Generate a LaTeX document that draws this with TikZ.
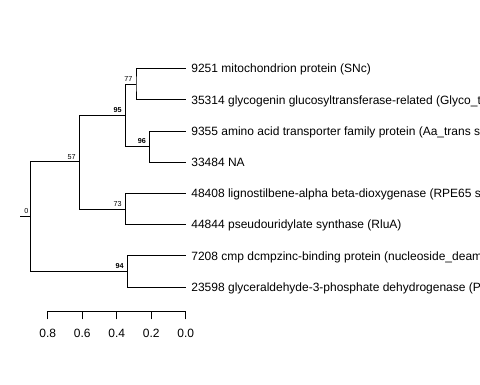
\documentclass[tikz,border=0pt]{standalone}
\usepackage{fontspec}
\setmainfont{Liberation Sans}
\begin{document}
\begin{tikzpicture}[x=1pt,y=-1pt,
  br/.style={draw=black,line width=0.75pt,line cap=rect},
  tip/.style={anchor=base west,inner sep=0pt,font=\fontsize{12}{14}\selectfont},
  blab/.style={anchor=south east,inner sep=0pt,font=\fontsize{7.2}{8}\selectfont},
  blabb/.style={blab,font=\fontsize{7.2}{8}\selectfont\bfseries},
  axl/.style={anchor=center,inner sep=0pt,font=\fontsize{12}{14}\selectfont}]
\useasboundingbox (0,0) rectangle (480,384);
\clip (0,0) rectangle (480,384);
% internal nodes
\coordinate (r0) at (30.7,216.3);
\coordinate (rs) at (20.7,216.3);
\coordinate (n57) at (79.3,161.8);
\coordinate (n94) at (127.3,271.3);
\coordinate (n95) at (125.3,115.3);
\coordinate (n73) at (125.3,208.9);
\coordinate (n77) at (136,84.1);
\coordinate (n96) at (149.7,146.5);
% tips
\coordinate (t1) at (185.7,68.5);
\coordinate (t2) at (185.7,99.7);
\coordinate (t3) at (185.7,130.9);
\coordinate (t4) at (185.7,162.1);
\coordinate (t5) at (185.7,193.3);
\coordinate (t6) at (185.7,224.5);
\coordinate (t7) at (185.7,255.7);
\coordinate (t8) at (185.7,286.9);
% branches
\draw[br] (rs) -- (r0);
\draw[br] (n57) -| (r0) |- (n94);
\draw[br] (n95) -| (n57) |- (n73);
\draw[br] (n77) -| (n95) |- (n96);
\draw[br] (t1) -| (n77) |- (t2);
\draw[br] (t3) -| (n96) |- (t4);
\draw[br] (t5) -| (n73) |- (t6);
\draw[br] (t7) -| (n94) |- (t8);
% tip labels
\node[tip] (l1) at (191.2,72.8) {9251 mitochondrion protein (SNc)};
\node[tip] (l2) at (191.2,104.0) {35314 glycogenin glucosyltransferase-related (Glyco\_transf\_8)};
\node[tip] (l3) at (191.2,135.2) {9355 amino acid transporter family protein (Aa\_trans superfamily)};
\node[tip] (l4) at (191.2,166.4) {33484 NA};
\node[tip] (l5) at (191.2,197.6) {48408 lignostilbene-alpha beta-dioxygenase (RPE65 superfamily)};
\node[tip] (l6) at (191.2,228.8) {44844 pseudouridylate synthase (RluA)};
\node[tip] (l7) at (191.2,260.0) {7208 cmp dcmpzinc-binding protein (nucleoside\_deaminase)};
\node[tip] (l8) at (191.2,291.2) {23598 glyceraldehyde-3-phosphate dehydrogenase (PLN02237)};
% support labels
\node[blab] (b0) at ([xshift=-2pt,yshift=2.5pt]r0) {0};
\node[blab] (b57) at ([xshift=-3.5pt,yshift=2.5pt]n57) {57};
\node[blabb] (b95) at ([xshift=-3.5pt,yshift=2.5pt]n95) {95};
\node[blab] (b77) at ([xshift=-3.5pt,yshift=2.5pt]n77) {77};
\node[blabb] (b96) at ([xshift=-3.5pt,yshift=2.5pt]n96) {96};
\node[blab] (b73) at ([xshift=-3.5pt,yshift=2.5pt]n73) {73};
\node[blabb] (b94) at ([xshift=-3.5pt,yshift=2.5pt]n94) {94};
% axis
\coordinate (a8) at (47.7,311.7);
\coordinate (a6) at (82.2,311.7);
\coordinate (a4) at (116.7,311.7);
\coordinate (a2) at (151.2,311.7);
\coordinate (a0) at (185.7,311.7);
\draw[br] (a8) -- (a0);
\foreach \p/\t in {a8/0.8,a6/0.6,a4/0.4,a2/0.2,a0/0.0}{
  \draw[br] (\p) -- ++(0,7.3);
  \node[axl] (lab\p) at ([yshift=-21.5pt]\p) {\t};
}
\end{tikzpicture}
\end{document}
